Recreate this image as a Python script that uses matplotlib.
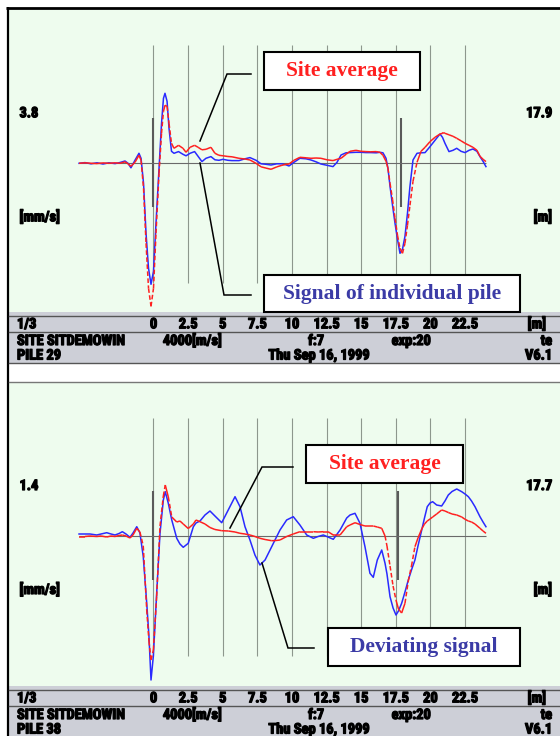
import numpy as np
import matplotlib.pyplot as plt
import matplotlib.patheffects as pe
from matplotlib import font_manager
from matplotlib.collections import LineCollection
from matplotlib.patches import Rectangle
from matplotlib.transforms import blended_transform_factory

# ---- pile 29: depth [m], site average and pile signal (relative velocity)
depth_29 = [
    -5.38, -4.95, -4.52, -4.08, -3.65, -3.22, -2.78, -2.42, -2.06, -1.84,
    -1.63, -1.34, -1.05, -0.90, -0.72, -0.54, -0.36, -0.18, 0.00, 0.18,
    0.40, 0.58, 0.72, 0.83, 0.98, 1.12, 1.30, 1.48, 1.81, 2.13,
    2.35, 2.64, 2.97, 3.22, 3.50, 3.79, 4.15, 4.44, 4.73, 5.02,
    5.38, 5.67, 6.18, 6.61, 6.97, 7.41, 7.77, 8.13, 8.49, 8.92,
    9.28, 9.57, 9.79, 10.15, 10.58, 11.02, 11.38, 11.74, 12.10, 12.54,
    12.97, 13.26, 13.55, 13.91, 14.20, 14.63, 14.99, 15.35, 15.71, 16.08,
    16.36, 16.58, 16.80, 16.94, 17.09, 17.27, 17.45, 17.63, 17.81, 17.99,
    18.17, 18.35, 18.53, 18.75, 19.04, 19.33, 19.62, 19.98, 20.34, 20.70,
    20.88, 21.06, 21.35, 21.64, 21.91, 22.22, 22.51, 22.80, 23.08, 23.37,
    23.59, 23.81, 24.02,
]
avg_29 = [
    0, 0.5, 0, -0.3, 0.4, 0, 0.5, 0, 1.5, -0.5,
    -3, 1, 8, 3, -25, -80, -125, -143, -125, -70,
    -10, 30, 52, 58, 57, 40, 20, 15, 18, 15,
    11, 16, 18, 16, 13.5, 14, 16, 10, 8, 7.5,
    6.8, 6.5, 5, 4.3, 3.3, 0, -3.5, -4.8, -6, -3.5,
    -2, -1, -0.7, 3, 6, 5.5, 5, 5.3, 5, 3.5,
    2.7, 4, 5, 9, 12, 13, 12, 11.7, 11.5, 11.7,
    11, 8, 2, -5, -20, -36, -55, -72, -85, -90,
    -80, -62, -42, -18, 1, 12, 16, 21.7, 26, 29.3,
    30, 30, 28.5, 27, 25, 22.5, 20, 18, 16, 13,
    7, 4, 1.7,
]
pile_29 = [
    0, 0.7, -0.5, 0.5, -0.7, 0.5, -0.3, 0.8, 2.3, 0,
    -4.5, 3, 10, 5, -20, -70, -105, -121, -108, -60,
    -5, 40, 65, 70, 62, 35, 12, 10, 11.7, 9,
    7.5, 10, 11.7, 7, 1.7, 5, 6.7, 3.5, 3, 4,
    3, 2.7, 2.7, 4.5, 5.7, 3, -0.5, -1, -1.7, -0.5,
    -0.5, -1.5, -2.7, 1, 5, 4.5, 3.3, 1.5, -0.7, -2,
    -3.3, 1, 8.3, 10.5, 10.7, 11, 11, 10.7, 10.7, 10.5,
    11, 10.5, 5, -5, -23, -42, -60, -76, -90, -86,
    -73, -50, -23, 3.3, 10, 10.5, 10.7, 16.7, 23, 29.3,
    26, 20, 11.7, 13, 15, 12, 10.7, 13, 14.3, 12,
    6.7, 2, -3.3,
]

# ---- pile 38
depth_38 = [
    -5.38, -4.95, -4.59, -4.10, -3.79, -3.38, -3.07, -2.78, -2.49, -2.25,
    -1.99, -1.70, -1.48, -1.21, -0.98, -0.74, -0.49, -0.33, -0.18, -0.01,
    0.23, 0.47, 0.71, 0.85, 1.07, 1.32, 1.68, 1.91, 2.15, 2.51,
    2.88, 3.07, 3.36, 3.72, 4.08, 4.44, 4.93, 5.40, 5.89, 6.25,
    6.61, 6.97, 7.33, 7.69, 8.06, 8.54, 8.85, 9.14, 9.62, 10.10,
    10.58, 11.07, 11.55, 11.89, 12.27, 12.61, 12.99, 13.48, 13.96, 14.20,
    14.56, 14.92, 15.28, 15.64, 15.88, 16.17, 16.49, 16.73, 16.87, 17.09,
    17.31, 17.52, 17.70, 17.93, 18.17, 18.41, 18.64, 18.89, 19.11, 19.38,
    19.58, 19.78, 19.98, 20.17, 20.46, 20.82, 21.06, 21.30, 21.57, 21.91,
    22.27, 22.51, 22.75, 22.98, 23.23, 23.59, 23.81, 24.02,
]
avg_38 = [
    -0.5, -0.5, 0, -0.5, 0, -1, 0, -0.5, 0.5, 1,
    0, -2, 1, 7.7, 4, -10, -74, -105, -124, -114,
    -60, 10, 40, 51, 39, 19, 14, 15, 12, 7.5,
    12, 16, 14.3, 12, 8.5, 6.5, 5.3, 5, 4, 2.7,
    2, 1, -0.5, -2.3, -3.5, -4.7, -4.5, -4, -0.5, 2,
    4.3, 4.3, 4.3, 4, 4.3, 4.3, 1, 1, 9.3, 11,
    13.3, 11.5, 10, 10, 10, 9, 7.7, 0, -10, -30,
    -50, -64, -73, -77, -67.3, -45, -30, -10.7, -2, 7,
    12, 15, 17, 19, 22, 26, 25, 23.5, 22, 21,
    19, 16.7, 15, 14, 12, 7.7, 5, 2.7,
]
pile_38 = [
    2, 2, 2, 1, 2, 3.3, 2, 1, 2.5, 4.3,
    2, -1.3, 3, 9.3, 3, -20.7, -67, -100, -144, -120,
    -57, 2.7, 36, 44.3, 32.7, 16, -2.3, -8, -11.3, -7.3,
    9.3, 13, 15, 21, 25, 20, 13.3, 26, 39.3, 29.3,
    9.3, -4, -19, -29, -24, -10.7, -2, 6, 16, 19.3,
    11, 1, -2.3, -0.5, 1, -1, -3.3, 6, 18, 21,
    22.7, 12.7, -10.7, -37.3, -41.3, -24, -14, -27.3, -38, -60.7,
    -72, -79, -75, -67.3, -56, -44, -34, -24, -10, 6,
    18, 29.3, 33, 34.3, 31, 30, 35, 41, 44.5, 47,
    44.3, 42, 39.3, 35, 29.3, 19.3, 14, 9.3,
]

grid_ticks = [0, 2.5, 5, 7.5, 10, 12.5, 15, 17.5, 20, 22.5]
tick_labels = ["0", "2.5", "5", "7.5", "10", "12.5", "15", "17.5", "20", "22.5"]

W, H = 560, 736
PX_PER_M = 13.84
X_ZERO = 153.5

GREEN = "#eefcee"
FOOT = "#cdcfd7"
BLUE = "#2a2aff"
RED = "#ff2020"
GRID = "#8d978d"
NAVY = "#3b3ba6"
SERIF = ["Liberation Serif", "DejaVu Serif"]

# narrow bold face for the instrument labels, whichever is installed
_fonts = font_manager.fontManager.ttflist
_names = {f.name for f in _fonts}
if "Liberation Sans Narrow" in _names:
    COND = dict(family="Liberation Sans Narrow", fontsize=10)
elif "Roboto Condensed" in _names:
    COND = dict(family="Roboto Condensed", fontsize=10.4)
elif any(f.name.startswith("DejaVu Sans") and f.stretch == "condensed"
         for f in _fonts):
    COND = dict(family="DejaVu Sans", fontstretch="condensed", fontsize=8.2)
else:
    COND = dict(family="Liberation Sans", fontsize=8.2)
# thicken the strokes so the labels read as heavy as the instrument print
HEAVY = [pe.withStroke(linewidth=0.9, foreground="black")]

fig = plt.figure(figsize=(W / 100, H / 100), dpi=100)
fig.patch.set_facecolor("white")

bg = fig.add_axes([0, 0, 1, 1], zorder=0)
fg = fig.add_axes([0, 0, 1, 1], zorder=5)
for a in (bg, fg):
    a.set_xlim(0, W)
    a.set_ylim(H, 0)
    a.axis("off")


def label(x, y, s, ha="left", **kw):
    # y is the middle of the capitals
    bg.text(x, y + 5, s, ha=ha, va="baseline", fontweight="bold",
            color="black", path_effects=HEAVY, **COND, **kw)


def avg_trace(ax, x, y):
    x = np.asarray(x, float)
    y = np.asarray(y, float)
    pts = np.column_stack([x, y])
    segs = np.stack([pts[:-1], pts[1:]], axis=1)
    # the steep parts of the average come out dashed
    slope = np.abs(np.diff(y) / (np.diff(x) * PX_PER_M))
    styles = [(0, (3, 1.6)) if s > 4 else "solid" for s in slope]
    ax.add_collection(LineCollection(segs, colors=RED, linewidths=1.1,
                                     linestyles=styles, zorder=4))


def draw_panel(top, bot, base, depth, avg, sig, toe, scale, pile):
    bg.add_patch(Rectangle((9, top), W - 9, bot - top, fc=GREEN, ec="none"))
    bg.add_patch(Rectangle((9, bot), W - 9, 51, fc=FOOT, ec="none"))
    for yy in (bot + 4, bot + 19.7, bot + 51):
        bg.plot([9, W], [yy, yy], color="#555555", lw=1.0)

    ax = fig.add_axes([0, 1 - bot / H, 1, (bot - top) / H], zorder=2)
    ax.set_xlim(-X_ZERO / PX_PER_M, (W - X_ZERO) / PX_PER_M)
    ax.set_ylim(base - bot, base - top)
    ax.axis("off")

    ax.vlines(grid_ticks, -119.5, 118.5, color=GRID, lw=0.8, zorder=1)
    ax.vlines([0, toe], -44, 45, color="#5a5a5a", lw=1.5, zorder=2)
    ax.hlines(0, depth[0], depth[-1], color="#6a6a6a", lw=0.8, zorder=2)
    ax.plot(depth, sig, color=BLUE, lw=1.1, zorder=3)
    avg_trace(ax, depth, avg)

    label(19.5, base - 51, scale)
    label(19.5, base + 53, "[mm/s]")
    label(552, base - 51, f"{toe}", ha="right")
    label(552, base + 53, "[m]", ha="right")

    r1, r2, r3 = bot + 11.3, bot + 28, bot + 42.5
    trans = blended_transform_factory(ax.transData, bg.transData)
    for t, s in zip(grid_ticks, tick_labels):
        bg.text(t, r1 + 5, s, transform=trans, ha="center", va="baseline",
                fontweight="bold", path_effects=HEAVY, **COND)
    label(17, r1, "1/3")
    label(546, r1, "[m]", ha="right")
    label(17, r2, "SITE SITDEMOWIN")
    label(192, r2, "4000[m/s]", ha="center")
    label(316, r2, "f:7", ha="center")
    label(411, r2, "exp:20", ha="center")
    label(552, r2, "te", ha="right")
    label(17, r3, f"PILE {pile}")
    label(319, r3, "Thu Sep 16, 1999", ha="center")
    label(552, r3, "V6.1", ha="right")


def callout(x0, y0, x1, y1, text, color, path):
    fg.plot(*zip(*path), color="black", lw=1.1, solid_joinstyle="miter")
    fg.add_patch(Rectangle((x0, y0), x1 - x0, y1 - y0, fc="white",
                           ec="black", lw=1.5))
    fg.text((x0 + x1) / 2, (y0 + y1) / 2, text, ha="center", va="center",
            family=SERIF, fontweight="bold", fontsize=15.5, color=color)


# frame
bg.plot([6, W], [8, 8], color="black", lw=2.0, solid_capstyle="butt")
bg.plot([7.5, 7.5], [7, H], color="black", lw=1.6, solid_capstyle="butt")
bg.plot([9, W], [381.5, 381.5], color="#777777", lw=1.0)

draw_panel(10, 312, 163.3, depth_29, avg_29, pile_29, 17.9, "3.8", 29)
draw_panel(383, 686, 536, depth_38, avg_38, pile_38, 17.7, "1.4", 38)

callout(264, 52, 420, 90, "Site average", RED,
        [(251, 74), (227, 74), (200, 141)])
callout(264, 275, 520, 312, "Signal of individual pile", NAVY,
        [(200, 163), (224, 295), (251, 295)])
callout(306, 445, 463, 483, "Site average", RED,
        [(293, 467), (262, 467), (230, 528)])
callout(328, 628, 520, 666, "Deviating signal", NAVY,
        [(262, 563), (288, 648), (314, 648)])

fig.savefig("out.png", dpi=100)
